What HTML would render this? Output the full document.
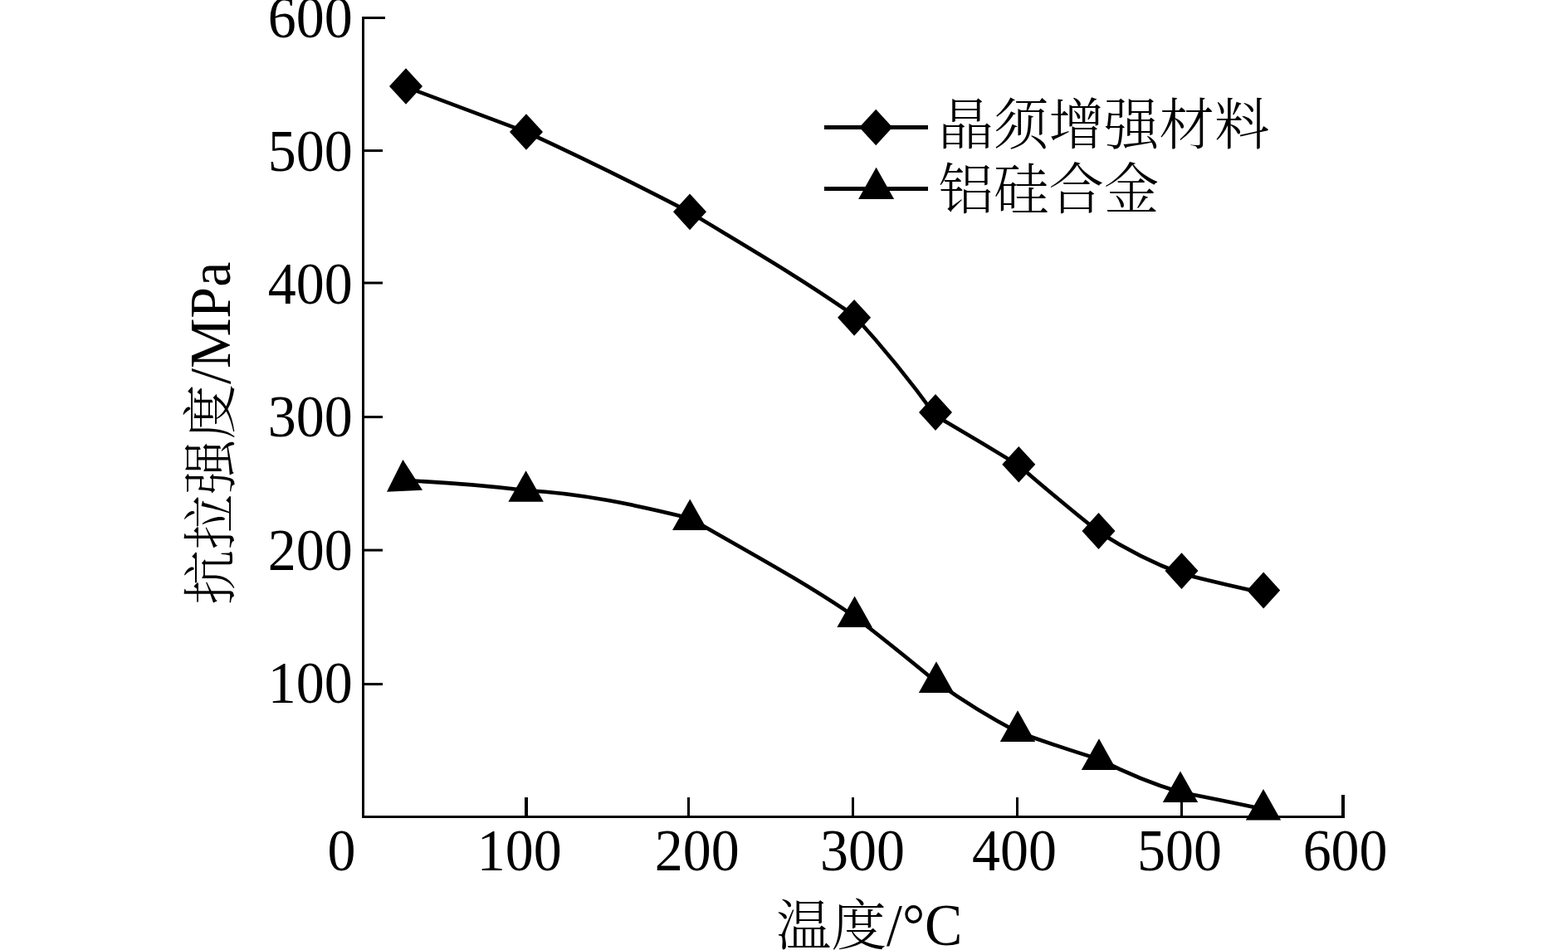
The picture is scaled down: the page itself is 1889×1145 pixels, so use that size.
<!DOCTYPE html>
<html lang="zh-CN">
<head>
<meta charset="utf-8">
<title>抗拉强度与温度的关系</title>
<style>
html,body{margin:0;padding:0;background:#fff;}
body{width:1889px;height:1145px;overflow:hidden;}
svg{display:block;}
text{font-family:"Liberation Serif","Noto Serif CJK SC",serif;font-size:68px;fill:#000;}
.c{font-size:66.5px;font-weight:300;}
</style>
</head>
<body>
<svg width="1889" height="1145" viewBox="0 0 1889 1145">
<rect x="0" y="0" width="1889" height="1145" fill="#fff"/>
<g fill="#000">
<rect x="436" y="20" width="3" height="966"/>
<rect x="436" y="983" width="1184" height="3"/>
<rect x="436" y="20" width="28" height="3"/>
<rect x="436" y="180.1" width="25" height="3"/>
<rect x="436" y="339.5" width="25" height="3"/>
<rect x="436" y="501.1" width="25" height="3"/>
<rect x="436" y="661.6" width="25" height="3"/>
<rect x="436" y="823.1" width="25" height="3"/>
<rect x="632" y="961" width="4" height="24"/>
<rect x="828" y="961" width="3" height="24"/>
<rect x="1026" y="961" width="3" height="24"/>
<rect x="1224" y="961" width="3" height="24"/>
<rect x="1422" y="961" width="3" height="24"/>
<rect x="1616" y="958" width="4" height="28"/>
</g>
<g fill="none" stroke="#000" stroke-width="4.6" stroke-linejoin="round">
<path d="M489.0 104.8 C537.3 122.5 585.7 140.6 634.0 159.1 C699.7 189.3 765.3 221.6 831.0 255.9 C897.0 296.0 963.1 334.0 1029.1 380.5 C1061.7 416.3 1094.4 455.9 1127.0 501.0 C1160.4 520.4 1193.9 540.4 1227.3 560.9 C1259.4 588.7 1291.4 615.5 1323.5 641.0 C1356.8 662.3 1390.2 679.2 1423.5 691.5 C1456.4 699.8 1489.3 707.6 1522.2 714.7"/>
<path d="M487.0 579.1 C535.9 581.2 584.7 585.2 633.6 591.0 C699.5 594.5 765.5 608.4 831.4 624.7 C897.6 663.3 963.8 698.1 1030.0 743.4 C1062.8 768.8 1095.5 795.1 1128.3 822.2 C1160.9 845.4 1193.6 865.6 1226.2 882.5 C1258.9 894.1 1291.5 905.1 1324.2 915.1 C1356.9 931.8 1389.7 945.3 1422.4 955.0 C1455.6 961.3 1488.8 968.1 1522.0 975.3"/>
</g>
<g fill="#000">
<rect x="993" y="151" width="125" height="5"/>
<rect x="993" y="225" width="125" height="5"/>
<polygon points="1055.2,131.8 1075.2,153.5 1055.2,175.2 1035.2,153.5"/>
<polygon points="1055.6,201.8 1077.1,240.0 1034.1,240.0"/>
<polygon points="489.0,82.2 509.0,104.0 489.0,125.8 469.0,104.0"/>
<polygon points="634.0,137.2 654.0,159.0 634.0,180.8 614.0,159.0"/>
<polygon points="831.0,233.5 851.0,255.3 831.0,277.2 811.0,255.3"/>
<polygon points="1029.1,360.9 1049.1,382.8 1029.1,404.7 1009.1,382.8"/>
<polygon points="1127.0,475.1 1147.0,497.0 1127.0,518.9 1107.0,497.0"/>
<polygon points="1227.3,537.9 1247.3,559.7 1227.3,581.6 1207.3,559.7"/>
<polygon points="1323.5,618.1 1343.5,640.0 1323.5,661.9 1303.5,640.0"/>
<polygon points="1423.5,666.2 1443.5,688.1 1423.5,710.0 1403.5,688.1"/>
<polygon points="1522.2,689.6 1542.2,711.5 1522.2,733.4 1502.2,711.5"/>
<polygon points="485.4,553.9 509,590.7 466,592.7"/>
<polygon points="633.6,567.2 654.8,604.8 612.4,604.8"/>
<polygon points="831.2,601.5 852.4,639.1 810.0,639.1"/>
<polygon points="1029.6,718.4 1050.8,756.0 1008.4,756.0"/>
<polygon points="1128.0,797.3 1149.2,834.9 1106.8,834.9"/>
<polygon points="1226.0,856.3 1247.2,893.9 1204.8,893.9"/>
<polygon points="1324.0,890.3 1345.2,927.9 1302.8,927.9"/>
<polygon points="1422.0,929.5 1443.2,967.1 1400.8,967.1"/>
<polygon points="1522.0,951.0 1543.2,988.6 1500.8,988.6"/>
</g>
<text transform="translate(424.7,45.3) scale(1,1.060)" text-anchor="end">600</text>
<text transform="translate(424.7,205.8) scale(1,1.060)" text-anchor="end">500</text>
<text transform="translate(424.7,365.7) scale(1,1.060)" text-anchor="end">400</text>
<text transform="translate(424.7,525.7) scale(1,1.060)" text-anchor="end">300</text>
<text transform="translate(424.7,686.6) scale(1,1.060)" text-anchor="end">200</text>
<text transform="translate(424.7,846.6) scale(1,1.060)" text-anchor="end">100</text>
<text transform="translate(428.5,1048.5) scale(1,1.060)" text-anchor="end">0</text>
<text transform="translate(676.7,1048.5) scale(1,1.060)" text-anchor="end">100</text>
<text transform="translate(890.7,1048.5) scale(1,1.060)" text-anchor="end">200</text>
<text transform="translate(1089.9,1048.5) scale(1,1.060)" text-anchor="end">300</text>
<text transform="translate(1272.9,1048.5) scale(1,1.060)" text-anchor="end">400</text>
<text transform="translate(1472.0,1048.5) scale(1,1.060)" text-anchor="end">500</text>
<text transform="translate(1671.6,1048.5) scale(1,1.060)" text-anchor="end">600</text>
<text class="c" transform="translate(935,1139.3) scale(1,0.985)">温度</text>
<text transform="translate(1068,1139) scale(1,1.06)">/°C</text>
<text class="c" transform="translate(276.8,729) rotate(-90) scale(1,0.985)">抗拉强度</text>
<text transform="translate(276.5,463) rotate(-90) scale(1,1.03)">/MPa</text>
<text class="c" x="1130.5" y="174">晶须增强材料</text>
<text class="c" x="1130.5" y="252">铝硅合金</text>
</svg>
</body>
</html>
